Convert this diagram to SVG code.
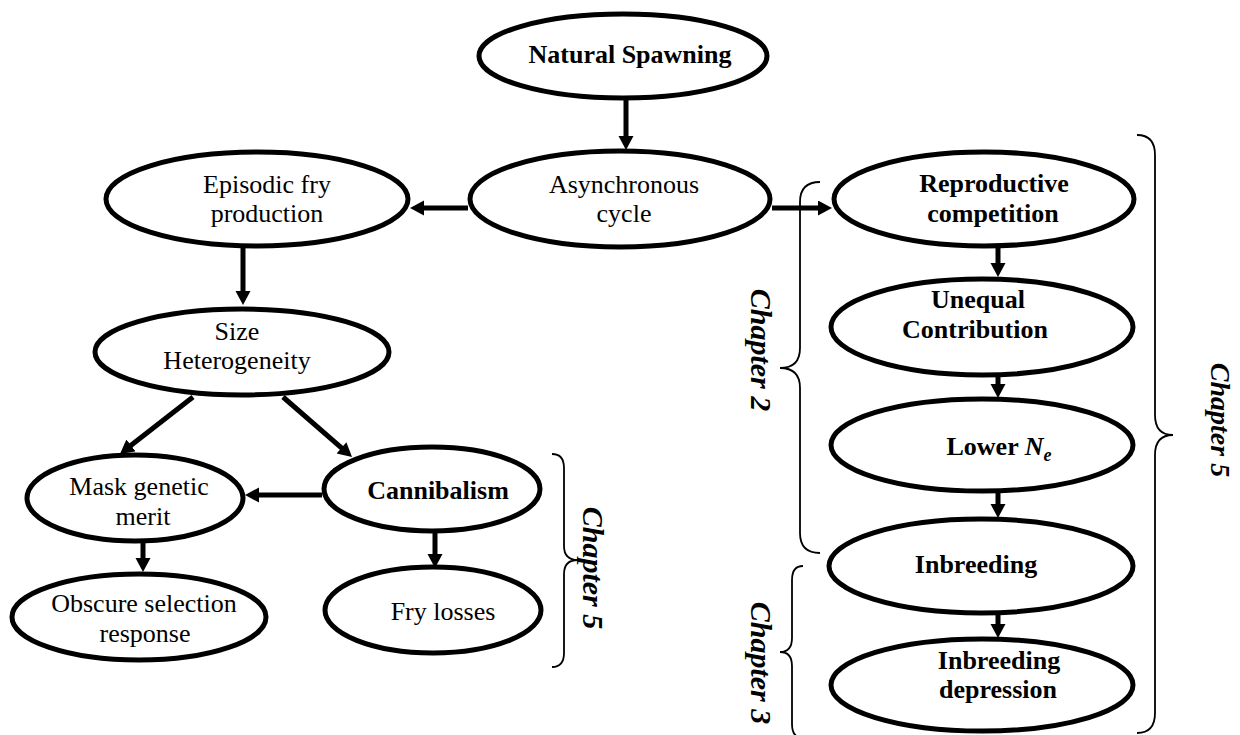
<svg xmlns="http://www.w3.org/2000/svg" width="1240" height="735" viewBox="0 0 1240 735">
<style>
.n{fill:#fff;stroke:#000;stroke-width:5}
.t{font-family:"Liberation Serif","Times New Roman",serif;font-size:26px;fill:#000;text-anchor:middle}
.b{font-weight:bold}
.c{stroke:#000;stroke-width:5;fill:none}
.br{stroke:#000;stroke-width:1.8;fill:none}
.ch{font-family:"Liberation Serif","Times New Roman",serif;font-weight:bold;font-style:italic;font-size:30px;fill:#000;text-anchor:middle}
</style>
<defs>
<marker id="ah" markerUnits="userSpaceOnUse" markerWidth="16" markerHeight="16" refX="8" refY="7.5" orient="auto">
<path d="M0,0 L14,7.5 L0,15 z" fill="#000"/>
</marker>
</defs>
<g id="connectors">
<line class="c" x1="626" y1="100" x2="626" y2="144" marker-end="url(#ah)"/>
<line class="c" x1="468" y1="208" x2="416" y2="208" marker-end="url(#ah)"/>
<line class="c" x1="772" y1="208" x2="826" y2="208" marker-end="url(#ah)"/>
<line class="c" x1="243" y1="248" x2="243" y2="299" marker-end="url(#ah)"/>
<line class="c" x1="193" y1="397" x2="124.7" y2="450.3" marker-end="url(#ah)"/>
<line class="c" x1="283" y1="397" x2="347.5" y2="453.1" marker-end="url(#ah)"/>
<line class="c" x1="322" y1="495" x2="251" y2="495" marker-end="url(#ah)"/>
<line class="c" x1="143" y1="543" x2="143" y2="566" marker-end="url(#ah)"/>
<line class="c" x1="435" y1="533" x2="435" y2="562" marker-end="url(#ah)"/>
<line class="c" x1="998" y1="248" x2="998" y2="271" marker-end="url(#ah)"/>
<line class="c" x1="998" y1="377" x2="998" y2="392" marker-end="url(#ah)"/>
<line class="c" x1="998" y1="493" x2="998" y2="512" marker-end="url(#ah)"/>
<line class="c" x1="998" y1="615" x2="998" y2="632" marker-end="url(#ah)"/>
</g>
<g id="natural-spawning">
<ellipse class="n" cx="623" cy="56" rx="144" ry="42"/>
<text class="t b" x="630" y="63">Natural Spawning</text>
</g>
<g id="asynchronous-cycle">
<ellipse class="n" cx="620" cy="199" rx="150" ry="48"/>
<text class="t" x="624" y="193">Asynchronous</text>
<text class="t" x="624" y="222">cycle</text>
</g>
<g id="episodic-fry-production">
<ellipse class="n" cx="257" cy="199" rx="151" ry="47"/>
<text class="t" x="267" y="193">Episodic fry</text>
<text class="t" x="267" y="222">production</text>
</g>
<g id="size-heterogeneity">
<ellipse class="n" cx="242" cy="352" rx="147" ry="43"/>
<text class="t" x="237" y="340">Size</text>
<text class="t" x="237" y="369">Heterogeneity</text>
</g>
<g id="mask-genetic-merit">
<ellipse class="n" cx="135" cy="498" rx="108" ry="43"/>
<text class="t" x="139" y="495">Mask genetic</text>
<text class="t" x="143" y="525">merit</text>
</g>
<g id="cannibalism">
<ellipse class="n" cx="432" cy="489" rx="108" ry="42"/>
<text class="t b" x="438" y="499">Cannibalism</text>
</g>
<g id="obscure-selection-response">
<ellipse class="n" cx="139" cy="617" rx="127" ry="43"/>
<text class="t" x="144" y="612">Obscure selection</text>
<text class="t" x="145" y="642">response</text>
</g>
<g id="fry-losses">
<ellipse class="n" cx="433" cy="610" rx="108" ry="43"/>
<text class="t" x="443" y="620">Fry losses</text>
</g>
<g id="reproductive-competition">
<ellipse class="n" cx="984" cy="199" rx="150" ry="47"/>
<text class="t b" x="994" y="192">Reproductive</text>
<text class="t b" x="993" y="222">competition</text>
</g>
<g id="unequal-contribution">
<ellipse class="n" cx="982" cy="327" rx="151" ry="48"/>
<text class="t b" x="978" y="308">Unequal</text>
<text class="t b" x="975" y="338">Contribution</text>
</g>
<g id="lower-ne">
<ellipse class="n" cx="982" cy="445" rx="151" ry="46"/>
<text class="t b" x="999" y="455">Lower <tspan font-style="italic">N</tspan><tspan font-style="italic" font-size="18px" dy="6">e</tspan></text>
</g>
<g id="inbreeding">
<ellipse class="n" cx="981" cy="566" rx="152" ry="47"/>
<text class="t b" x="976" y="573">Inbreeding</text>
</g>
<g id="inbreeding-depression">
<ellipse class="n" cx="982" cy="685" rx="151" ry="46"/>
<text class="t b" x="999" y="669">Inbreeding</text>
<text class="t b" x="998" y="698">depression</text>
</g>
<g id="chapter-brackets">
<path class="br" d="M820,182 Q800,182 800,202 L800,348 Q800,368 780,368 Q800,368 800,388 L800,533 Q800,553 820,553"/>
<path class="br" d="M803,566 Q792,566 792,580 L792,638 Q792,652 780,652 Q792,652 792,666 L792,724 Q792,738 803,738"/>
<path class="br" d="M552,454 Q564,454 564,468 L564,546 Q564,560 578,560 Q564,560 564,574 L564,653 Q564,667 552,667"/>
<path class="br" d="M1137,135 Q1155,135 1155,155 L1155,415 Q1155,435 1173,435 Q1155,435 1155,455 L1155,713 Q1155,733 1137,733"/>
<text class="ch" transform="translate(751,350) rotate(90)">Chapter 2</text>
<text class="ch" transform="translate(751,663) rotate(90)">Chapter 3</text>
<text class="ch" transform="translate(583,568) rotate(90)">Chapter 5</text>
<text class="ch" style="font-size:28px" transform="translate(1211,420) rotate(90)">Chapter 5</text>
</g>
</svg>
